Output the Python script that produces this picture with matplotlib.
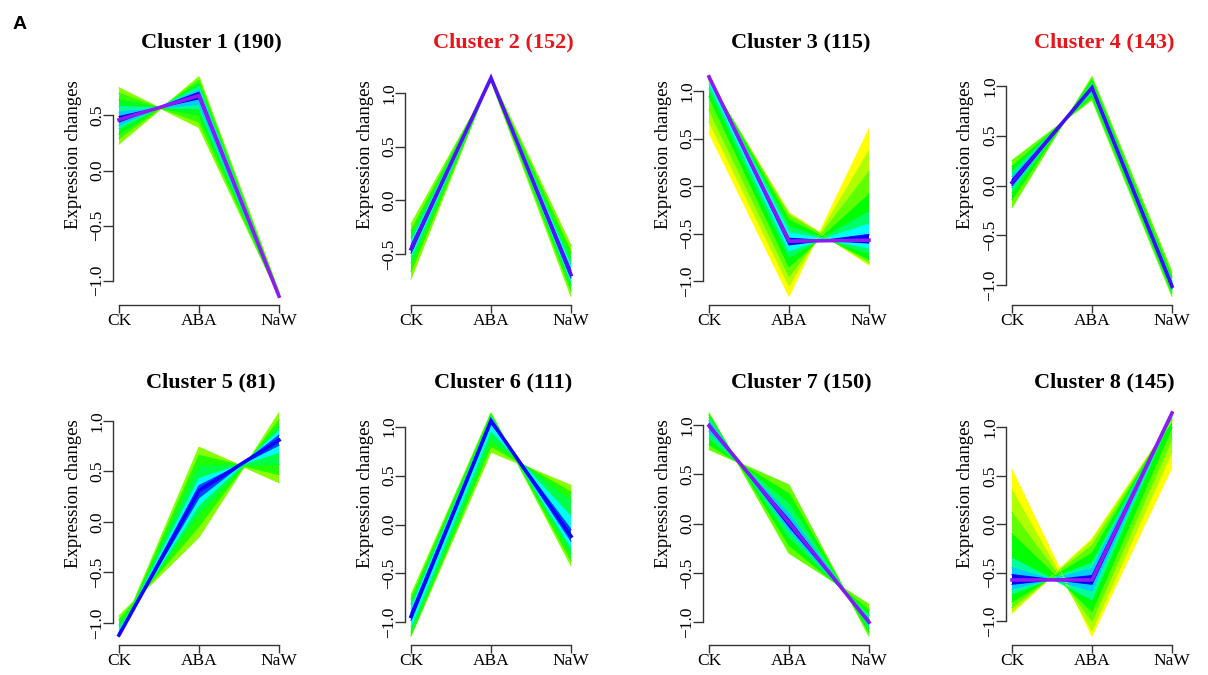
import matplotlib
matplotlib.use("Agg")
import matplotlib.pyplot as plt
from matplotlib.colors import LinearSegmentedColormap
import numpy as np

# ---------------- data ----------------
conditions = ["CK", "ABA", "NaW"]
titles = ["Cluster 1 (190)", "Cluster 2 (152)", "Cluster 3 (115)", "Cluster 4 (143)",
          "Cluster 5 (81)", "Cluster 6 (111)", "Cluster 7 (150)", "Cluster 8 (145)"]
title_colors = ["black", "#E8161B", "black", "#E8161B",
                "black", "black", "black", "black"]

# each band: (membership, profile A [CK, ABA, NaW], profile B [CK, ABA, NaW])
c1_bands = [
    (0.12, [0.75, 0.39, -1.14], [0.24, 0.85, -1.10]),
    (0.20, [0.70, 0.44, -1.14], [0.29, 0.82, -1.11]),
    (0.28, [0.64, 0.50, -1.14], [0.33, 0.79, -1.12]),
    (0.40, [0.58, 0.56, -1.14], [0.38, 0.76, -1.13]),
    (0.55, [0.53, 0.60, -1.13], [0.41, 0.73, -1.13]),
    (0.75, [0.49, 0.65, -1.14], [0.44, 0.71, -1.14]),
]
c1_core = (0.97, [0.46, 0.68, -1.14])

c2_bands = [
    (0.12, [-0.22, 1.11, -0.89], [-0.73, 1.15, -0.42]),
    (0.22, [-0.28, 1.12, -0.84], [-0.66, 1.14, -0.48]),
    (0.32, [-0.34, 1.13, -0.79], [-0.58, 1.14, -0.56]),
    (0.50, [-0.39, 1.13, -0.75], [-0.52, 1.13, -0.61]),
    (0.72, [-0.42, 1.13, -0.72], [-0.49, 1.14, -0.65]),
]
c2_core = (0.88, [-0.45, 1.14, -0.69])

c3_bands = [
    (0.00, [0.56, -1.16, 0.60], [1.11, -0.28, -0.83]),
    (0.08, [0.68, -1.05, 0.37], [1.11, -0.29, -0.82]),
    (0.16, [0.80, -0.95, 0.15], [1.12, -0.31, -0.80]),
    (0.25, [0.94, -0.85, -0.09], [1.13, -0.36, -0.77]),
    (0.35, [1.02, -0.75, -0.27], [1.14, -0.43, -0.71]),
    (0.50, [1.08, -0.68, -0.40], [1.14, -0.49, -0.65]),
    (0.75, [1.13, -0.62, -0.51], [1.15, -0.55, -0.60]),
]
c3_core = (0.97, [1.15, -0.58, -0.57])

c4_bands = [
    (0.15, [0.25, 0.86, -1.11], [-0.22, 1.09, -0.87]),
    (0.25, [0.19, 0.89, -1.08], [-0.14, 1.06, -0.92]),
    (0.35, [0.14, 0.92, -1.06], [-0.07, 1.03, -0.96]),
    (0.55, [0.09, 0.95, -1.04], [-0.02, 1.00, -0.98]),
    (0.75, [0.06, 0.97, -1.03], [0.00, 0.99, -0.99]),
]
c4_core = (0.85, [0.03, 0.98, -1.01])

c5_bands = [
    (0.12, [-1.13, 0.74, 0.39], [-0.93, -0.15, 1.08]),
    (0.22, [-1.13, 0.66, 0.47], [-0.97, -0.04, 1.01]),
    (0.32, [-1.12, 0.55, 0.57], [-1.02, 0.08, 0.94]),
    (0.50, [-1.12, 0.43, 0.69], [-1.07, 0.17, 0.90]),
    (0.68, [-1.12, 0.36, 0.76], [-1.10, 0.24, 0.86]),
]
c5_core = (0.78, [-1.12, 0.31, 0.81])

c6_bands = [
    (0.12, [-0.72, 1.14, -0.42], [-1.14, 0.74, 0.40]),
    (0.22, [-0.76, 1.13, -0.37], [-1.13, 0.80, 0.33]),
    (0.32, [-0.81, 1.11, -0.30], [-1.10, 0.86, 0.24]),
    (0.50, [-0.86, 1.09, -0.23], [-1.04, 0.96, 0.08]),
    (0.68, [-0.90, 1.07, -0.17], [-0.98, 1.03, -0.05]),
]
c6_core = (0.78, [-0.94, 1.06, -0.12])

c7_bands = [
    (0.15, [0.75, 0.39, -1.14], [1.12, -0.30, -0.82]),
    (0.25, [0.80, 0.30, -1.10], [1.10, -0.22, -0.88]),
    (0.35, [0.86, 0.20, -1.06], [1.07, -0.14, -0.93]),
    (0.55, [0.93, 0.10, -1.03], [1.04, -0.07, -0.97]),
    (0.75, [0.97, 0.04, -1.01], [1.01, -0.03, -0.98]),
]
c7_core = (0.95, [0.99, 0.01, -1.00])

c8_bands = [
    (0.00, [0.565, -1.155, 0.59], [-0.92, -0.15, 1.07]),
    (0.08, [0.35, -1.10, 0.75], [-0.90, -0.17, 1.07]),
    (0.16, [0.12, -1.00, 0.88], [-0.86, -0.22, 1.08]),
    (0.25, [-0.10, -0.90, 1.00], [-0.80, -0.30, 1.10]),
    (0.40, [-0.35, -0.78, 1.13], [-0.72, -0.40, 1.12]),
    (0.55, [-0.45, -0.69, 1.14], [-0.67, -0.46, 1.13]),
    (0.75, [-0.52, -0.62, 1.14], [-0.62, -0.53, 1.15]),
]
c8_core = (0.97, [-0.575, -0.575, 1.15])

all_bands = [c1_bands, c2_bands, c3_bands, c4_bands, c5_bands, c6_bands, c7_bands, c8_bands]
all_cores = [c1_core, c2_core, c3_core, c4_core, c5_core, c6_core, c7_core, c8_core]

# ---------------- style ----------------
plt.rcParams['font.family'] = ['Liberation Serif', 'DejaVu Serif']
cmap = LinearSegmentedColormap.from_list(
    "membership", ["#FFFF00", "#00FF00", "#00FFFF", "#0000FF", "#A020F0"])

W, H = 1208, 675
fig = plt.figure(figsize=(W / 100, H / 100), dpi=100)

ck_x = [119, 411, 709, 1012]
rows = [(68, 305), (404, 645)]
title_y = [42, 382]
ylabel_y = [155, 494]
axis_col = "#333333"
x = np.arange(len(conditions))

for i in range(8):
    r, c = divmod(i, 4)
    top, bot = rows[r]
    left = ck_x[c] - 6.4
    ax = fig.add_axes([left / W, 1 - bot / H, 172.8 / W, (bot - top) / H])

    bands = all_bands[i]
    core_m, core = all_cores[i]
    vals = [v for _, a, b in bands for v in a + b] + core
    vmin, vmax = min(vals), max(vals)
    ext = 0.04 * (vmax - vmin)
    ax.set_ylim(vmin - ext, vmax + ext)
    ax.set_xlim(-0.08, 2.08)

    for m, a, b in bands:
        col = cmap(m)
        ax.fill(np.concatenate([x, x[::-1]]), np.concatenate([a, b[::-1]]),
                color=col, lw=0)
        ax.plot(x, a, color=col, lw=0.8)
        ax.plot(x, b, color=col, lw=0.8)
    ax.plot(x, core, color=cmap(core_m), lw=2.6, solid_joinstyle='miter')

    ticks = np.arange(np.ceil(vmin / 0.5) * 0.5, vmax + 1e-9, 0.5)
    ax.set_yticks(ticks)
    ax.set_yticklabels([f"{t:.1f}".replace("-", "\u2212") for t in ticks],
                       rotation=90, va='center', fontsize=12.5)
    ax.set_xticks(x)
    ax.set_xticklabels(conditions, fontsize=12.5)

    for s in ['top', 'right']:
        ax.spines[s].set_visible(False)
    ax.spines['left'].set_bounds(ticks[0], ticks[-1])
    ax.spines['bottom'].set_bounds(0, 2)
    for s in ['left', 'bottom']:
        ax.spines[s].set_color(axis_col)
        ax.spines[s].set_linewidth(1.0)
    ax.tick_params(axis='y', direction='out', length=7, width=1, color=axis_col, pad=-1.5)
    ax.tick_params(axis='x', direction='out', length=6, width=1, color=axis_col, pad=0)
    ax.patch.set_visible(False)

    fig.text((ck_x[c] + 92) / W, 1 - title_y[r] / H, titles[i], ha='center', va='center',
             fontsize=16, fontweight='bold', color=title_colors[i])
    fig.text((ck_x[c] - 46) / W, 1 - ylabel_y[r] / H, "Expression changes",
             rotation=90, ha='center', va='center', fontsize=13.5)

fig.text(13 / W, 1 - 29 / H, "A", ha='left', va='baseline', fontsize=14,
         fontweight='bold', family=['Liberation Sans', 'DejaVu Sans'])

fig.savefig("out.png", dpi=100)
